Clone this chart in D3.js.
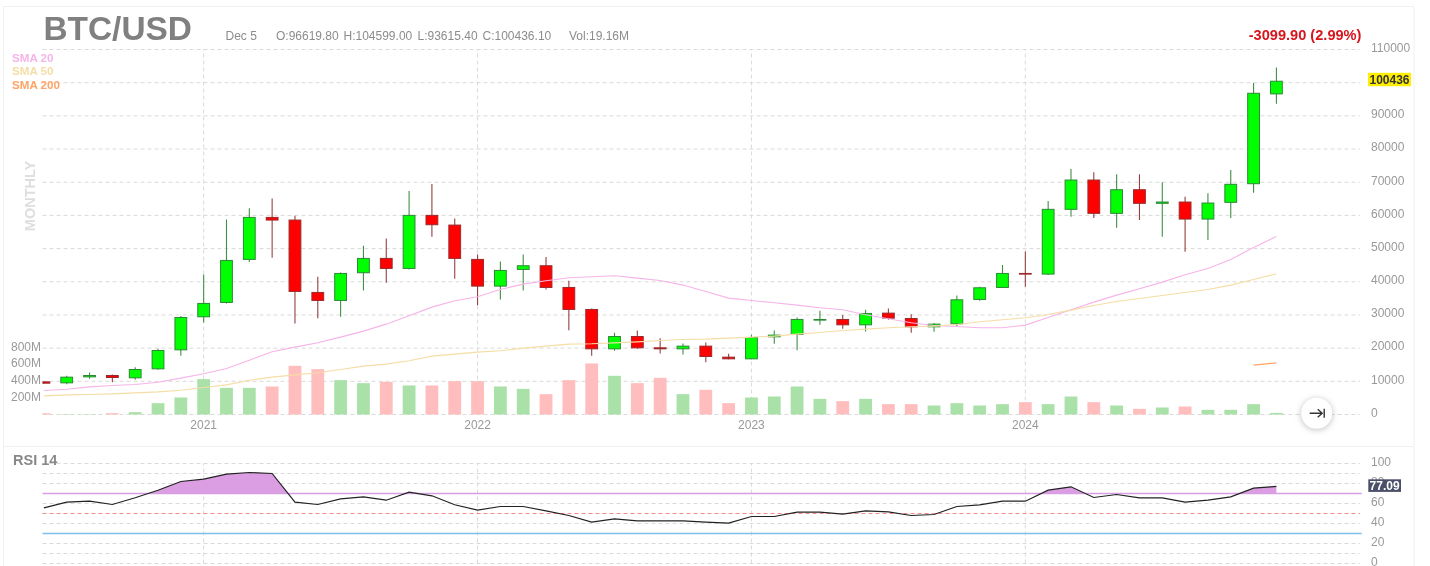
<!DOCTYPE html>
<html>
<head>
<meta charset="utf-8">
<title>BTC/USD</title>
<script src="https://cdn.jsdelivr.net/npm/d3@7/dist/d3.min.js"></script>
<style>
	html, body { margin: 0; padding: 0; background: #fff; overflow: hidden; }
	svg { display: block; font-family: "Liberation Sans", Arial, sans-serif; filter: blur(0.4px); }
	.grid line { stroke: #dadada; stroke-dasharray: 4 3; }
	.grid path, .labels path, .labels line { display: none; }
	.labels text { fill: #999; font-size: 12px; font-family: "Liberation Sans", Arial, sans-serif; }
	.button { filter: drop-shadow(0 1px 3px rgba(0,0,0,.25)); }
</style>
</head>
<body>
<div id="chart"></div>
<script>
var months = [
	'2020-06','2020-07','2020-08','2020-09','2020-10','2020-11','2020-12',
	'2021-01','2021-02','2021-03','2021-04','2021-05','2021-06','2021-07','2021-08','2021-09','2021-10','2021-11','2021-12',
	'2022-01','2022-02','2022-03','2022-04','2022-05','2022-06','2022-07','2022-08','2022-09','2022-10','2022-11','2022-12',
	'2023-01','2023-02','2023-03','2023-04','2023-05','2023-06','2023-07','2023-08','2023-09','2023-10','2023-11','2023-12',
	'2024-01','2024-02','2024-03','2024-04','2024-05','2024-06','2024-07','2024-08','2024-09','2024-10','2024-11','2024-12'
]
var opens = [
	9840,9540,11350,11750,11050,13760,19490,
	29450,33770,46740,59400,58600,36780,34370,42720,47040,44020,60010,57090,
	46740,38690,43720,44830,38290,31660,19790,23510,20100,19790,20600,17280,
	16780,23410,24120,28440,28640,27030,30550,28940,26430,27330,34670,38290,
	42510,42310,61830,70660,60620,67740,63640,64030,58900,63940,69550,96620
]
var highs = [
	9900,11650,12660,12050,14270,19800,29650,
	42210,58800,62120,65130,59900,41510,42810,50860,53070,67350,69460,59100,
	48240,46130,48240,47440,40300,31960,24620,25320,23010,21400,21700,18290,
	24020,25320,29240,31250,29950,31560,31960,30250,27540,35880,38490,45030,
	49150,64330,73980,72990,72380,72380,69970,65630,66650,73680,99920,104599
]
var lows = [
	9300,9140,10750,9740,10450,13460,17680,
	27740,33470,45930,47240,27430,29040,29450,37390,39700,43720,53570,40900,
	32960,34670,37390,37690,25420,17680,19190,19790,18390,18080,15770,16680,
	16680,21300,19390,27030,25830,25020,28540,24620,24920,26630,34270,38190,
	38490,42010,59600,59200,56280,58600,53570,49050,52570,59200,66830,93615
]
var closes = [
	9440,11250,11750,11150,13560,19290,29240,
	33470,46430,59400,58600,37090,34370,42510,47040,44020,60010,57190,47040,
	38690,43420,44830,38290,31660,19790,23510,20100,19790,20600,17480,16780,
	23210,23920,28640,28640,27030,30450,29040,26430,27230,34570,38190,42510,
	42310,61830,70660,60620,67740,63640,64030,58900,63730,69370,96810,100436
]
var volumes = [
	16,4,4,16,28,136,204,
	424,320,320,336,584,544,412,376,392,348,348,400,
	400,336,308,244,412,612,464,376,440,244,296,136,
	204,216,336,188,160,188,124,124,108,136,108,124,
	148,124,216,148,108,68,84,96,56,56,124,19.16
]
var sma20 = [
	7230,7630,8330,8740,9040,9740,10950,
	12260,13860,16380,18890,20300,21600,23310,25120,27230,29750,32360,34270,
	35470,37680,39300,40300,41200,41510,41810,41110,40400,39000,37090,35080,
	34370,33670,32960,32160,31550,30050,28840,27640,26830,26530,26130,26130,
	26930,29240,31550,33870,35980,37890,39900,42110,44020,46730,50350,53670
]
var sma50 = [
	5620,5920,6020,6220,6520,6830,7330,
	8130,8940,10340,11250,11950,12560,13560,14570,15170,16180,17580,18190,
	18790,19190,20000,20600,21200,21300,21600,21900,22300,22610,22710,23010,
	23310,23610,24210,24720,25320,25730,26130,26430,26630,27130,27940,28540,
	29140,30150,31460,32860,34070,34970,35880,36780,37690,38990,40700,42410
]
// the 200 month average only has its last two points on screen
var sma200Months = ['2024-11','2024-12']
var sma200 = [14870,15570]
var rsi = [
	55.7,61.3,62.3,59,65.7,73.3,82,
	84.3,89.3,91,90,61.3,59,64.7,66.7,63.3,71.3,67.7,58.7,
	53.3,57,57,52.7,48,41.3,44.7,42.7,42.7,42.7,41.3,40.3,
	47,47,51.3,51.3,49.3,52.7,51.7,48,49,57,58.7,62.3,
	62.3,73.3,76.7,66,69,65.7,65.7,61.3,63.3,66.7,75.3,77.09
]
var priceTicks = [0,10000,20000,30000,40000,50000,60000,70000,80000,90000,100000,110000]
var volumeTicks = [200,400,600,800]
var rsiGrid = [0,10,20,40,60,80,90,100]
var rsiTicks = [0,20,40,60,80,100]
var yearTicks = ['2021-01','2022-01','2023-01','2024-01']
var headerItems = ['Dec 5','O:96619.80','H:104599.00','L:93615.40','C:100436.10','Vol:19.16M']
var headerX = [225.5,276,343.5,417.5,482.5,569]
var smaLabels = ['SMA 20','SMA 50','SMA 200']
var smaColors = ['#f6b4e8','#f5dda6','#ffa364']

var width = 1430
var height = 566
var left = 42.5
var right = 1360
var bodyWidth = 11.8

var svg = d3.select('#chart').append('svg')
	.attr('width', width)
	.attr('height', height)

function translate(x, y) {
	return 'translate(' + x + ',' + y + ')'
}

var x = d3.scalePoint().domain(months).range([43.9, 1276.4])
var yPrice = d3.scaleLinear().domain([0, 110000]).range([414.5, 49.5])
var yVolume = d3.scaleLinear().domain([0, 800]).range([414.5, 347.8])
var yRsi = d3.scaleLinear().domain([0, 100]).range([563.5, 463.5])

// frame
svg.append('path')
	.attr('d', 'M3.5,566V6.5H1414V566M3.5,446.5H1414')
	.attr('fill', 'none')
	.attr('stroke', '#f0f0f0')

svg.append('defs').append('clipPath').attr('id', 'plot')
	.append('rect').attr('x', left).attr('y', 0).attr('width', right - left).attr('height', height)
svg.select('defs').append('clipPath').attr('id', 'overbought')
	.append('rect').attr('x', left).attr('y', 0).attr('width', right - left).attr('height', yRsi(70))

// grids
svg.append('g').attr('class', 'grid')
	.attr('transform', translate(left, 0))
	.call(d3.axisRight(yPrice).offset(0).tickValues(priceTicks).tickSize(right - left).tickFormat(''))

svg.append('g').attr('class', 'grid')
	.attr('transform', translate(0, yPrice(0)))
	.call(d3.axisBottom(x).offset(0).tickValues(yearTicks).tickSize(yPrice(110000) - yPrice(0)).tickFormat(''))

svg.append('g').attr('class', 'grid')
	.attr('transform', translate(left, 0))
	.call(d3.axisRight(yRsi).offset(0).tickValues(rsiGrid).tickSize(right - left).tickFormat(''))

svg.append('g').attr('class', 'grid')
	.attr('transform', translate(0, yRsi(0)))
	.call(d3.axisBottom(x).offset(0).tickValues(yearTicks).tickSize(yRsi(100) - yRsi(0)).tickFormat(''))

var plot = svg.append('g').attr('clip-path', 'url(#plot)')

// volume
plot.append('g').selectAll('rect')
	.data(months)
	.enter().append('rect')
	.attr('x', function(d) { return x(d) - bodyWidth / 2 - .5 })
	.attr('width', bodyWidth + 1)
	.attr('y', function(d, i) { return yVolume(volumes[i]) })
	.attr('height', function(d, i) { return yVolume(0) - yVolume(volumes[i]) })
	.attr('fill', function(d, i) { return closes[i] >= opens[i] ? '#aae1a8' : '#ffbdbd' })

// candles
var candle = plot.append('g').selectAll('g')
	.data(months)
	.enter().append('g')

candle.append('line')
	.attr('x1', function(d) { return x(d) })
	.attr('x2', function(d) { return x(d) })
	.attr('y1', function(d, i) { return yPrice(highs[i]) })
	.attr('y2', function(d, i) { return yPrice(lows[i]) })
	.attr('stroke', function(d, i) { return closes[i] >= opens[i] ? '#3f8f45' : '#964040' })
	.attr('stroke-width', 1.1)

candle.append('rect')
	.attr('x', function(d) { return x(d) - bodyWidth / 2 })
	.attr('width', bodyWidth)
	.attr('y', function(d, i) { return yPrice(Math.max(opens[i], closes[i])) })
	.attr('height', function(d, i) { return Math.abs(yPrice(opens[i]) - yPrice(closes[i])) })
	.attr('fill', function(d, i) { return closes[i] >= opens[i] ? '#00ff00' : '#ff0000' })
	.attr('stroke', function(d, i) { return closes[i] >= opens[i] ? '#2a8a34' : '#9a2a2a' })
	.attr('stroke-width', 1)

// moving averages
var smaLine = d3.line()
	.x(function(d, i) { return x(months[i]) })
	.y(function(d) { return yPrice(d) })

plot.append('path').attr('d', smaLine(sma20))
	.attr('fill', 'none').attr('stroke', smaColors[0]).attr('stroke-width', 1.1)
plot.append('path').attr('d', smaLine(sma50))
	.attr('fill', 'none').attr('stroke', smaColors[1]).attr('stroke-width', 1.1)
plot.append('path')
	.attr('d', d3.line()
		.x(function(d, i) { return x(sma200Months[i]) })
		.y(function(d) { return yPrice(d) })(sma200))
	.attr('fill', 'none').attr('stroke', smaColors[2]).attr('stroke-width', 1.1)

// rsi panel
svg.append('path')
	.attr('clip-path', 'url(#overbought)')
	.attr('d', d3.area()
		.x(function(d, i) { return x(months[i]) })
		.y0(yRsi(70))
		.y1(function(d) { return yRsi(d) })(rsi))
	.attr('fill', '#dc9ee2')

svg.append('line')
	.attr('x1', left).attr('x2', 1361.7)
	.attr('y1', yRsi(70)).attr('y2', yRsi(70))
	.attr('stroke', '#d79fe3').attr('stroke-width', 1.5)
svg.append('line')
	.attr('x1', left).attr('x2', right)
	.attr('y1', yRsi(50)).attr('y2', yRsi(50))
	.attr('stroke', '#f58a8a').attr('stroke-dasharray', '4 3')
svg.append('line')
	.attr('x1', left).attr('x2', 1361.7)
	.attr('y1', yRsi(30)).attr('y2', yRsi(30))
	.attr('stroke', '#7fc0e6').attr('stroke-width', 1.5)

svg.append('path')
	.attr('d', d3.line()
		.x(function(d, i) { return x(months[i]) })
		.y(function(d) { return yRsi(d) })(rsi))
	.attr('fill', 'none')
	.attr('stroke', '#222')
	.attr('stroke-width', 1.2)

// axis labels
svg.append('g').attr('class', 'labels')
	.attr('transform', translate(1362, -1.5))
	.call(d3.axisRight(yPrice).offset(0)
		.tickValues(priceTicks.filter(function(d) { return d !== 100000 }))
		.tickSize(0).tickPadding(9).tickFormat(d3.format('d')))

svg.append('g').attr('class', 'labels')
	.attr('transform', translate(41, -1))
	.call(d3.axisLeft(yVolume).offset(0).tickValues(volumeTicks).tickSize(0).tickPadding(0)
		.tickFormat(function(d) { return d + 'M' }))

svg.append('g').attr('class', 'labels')
	.attr('transform', translate(1362, -1.2))
	.call(d3.axisRight(yRsi).offset(0).tickValues(rsiTicks).tickSize(0).tickPadding(9).tickFormat(d3.format('d')))

svg.append('g').attr('class', 'labels')
	.attr('transform', translate(0, 417))
	.call(d3.axisBottom(x).offset(0).tickValues(yearTicks).tickSize(0).tickPadding(3)
		.tickFormat(function(d) { return d.slice(0, 4) }))

// last value tags
svg.append('rect').attr('x', 1368).attr('y', 72.8).attr('width', 43).attr('height', 13.4).attr('fill', '#ffee00')
svg.append('text').attr('x', 1389.5).attr('y', 84)
	.attr('text-anchor', 'middle').attr('font-size', 12).attr('font-weight', 'bold').attr('fill', '#333')
	.text(d3.format('d')(closes[closes.length - 1]))

svg.append('rect').attr('x', 1368.3).attr('y', 479.3).attr('width', 32.7).attr('height', 12.6).attr('fill', '#4a5068')
svg.append('text').attr('x', 1384.6).attr('y', 490)
	.attr('text-anchor', 'middle').attr('font-size', 12).attr('font-weight', 'bold').attr('fill', '#fff')
	.text(rsi[rsi.length - 1])

// header
svg.append('text').attr('x', 43.5).attr('y', 40)
	.attr('font-size', 33.4).attr('font-weight', 'bold').attr('fill', '#808080')
	.text('BTC/USD')

svg.append('g').selectAll('text')
	.data(headerItems)
	.enter().append('text')
	.attr('x', function(d, i) { return headerX[i] })
	.attr('y', 39.5)
	.attr('font-size', 12)
	.attr('fill', '#8c8c8c')
	.text(function(d) { return d })

svg.append('text').attr('x', 1248.7).attr('y', 39.8)
	.attr('font-size', 14.6).attr('font-weight', 'bold').attr('fill', '#d8141c')
	.text('-3099.90 (2.99%)')

svg.append('g').selectAll('text')
	.data(smaLabels)
	.enter().append('text')
	.attr('x', 12)
	.attr('y', function(d, i) { return [62.3, 75.3, 89.3][i] })
	.attr('font-size', 11.6)
	.attr('font-weight', 'bold')
	.attr('fill', function(d, i) { return smaColors[i] })
	.text(function(d) { return d })

svg.append('text')
	.attr('transform', translate(35, 196) + ' rotate(-90)')
	.attr('text-anchor', 'middle')
	.attr('font-size', 14.5).attr('font-weight', 'bold').attr('fill', '#dedede')
	.text('MONTHLY')

svg.append('text').attr('x', 13).attr('y', 465)
	.attr('font-size', 14.5).attr('font-weight', 'bold').attr('fill', '#888')
	.text('RSI 14')

// scroll to end button
var button = svg.append('g').attr('transform', translate(1316.7, 413.3))
button.append('circle').attr('class', 'button').attr('r', 15.5).attr('fill', '#fff')
button.append('path')
	.attr('d', 'M-7,0H5M1,-4L5.5,0L1,4M7.5,-4.5V4.5')
	.attr('fill', 'none').attr('stroke', '#333').attr('stroke-width', 1.4)
</script>
</body>
</html>
